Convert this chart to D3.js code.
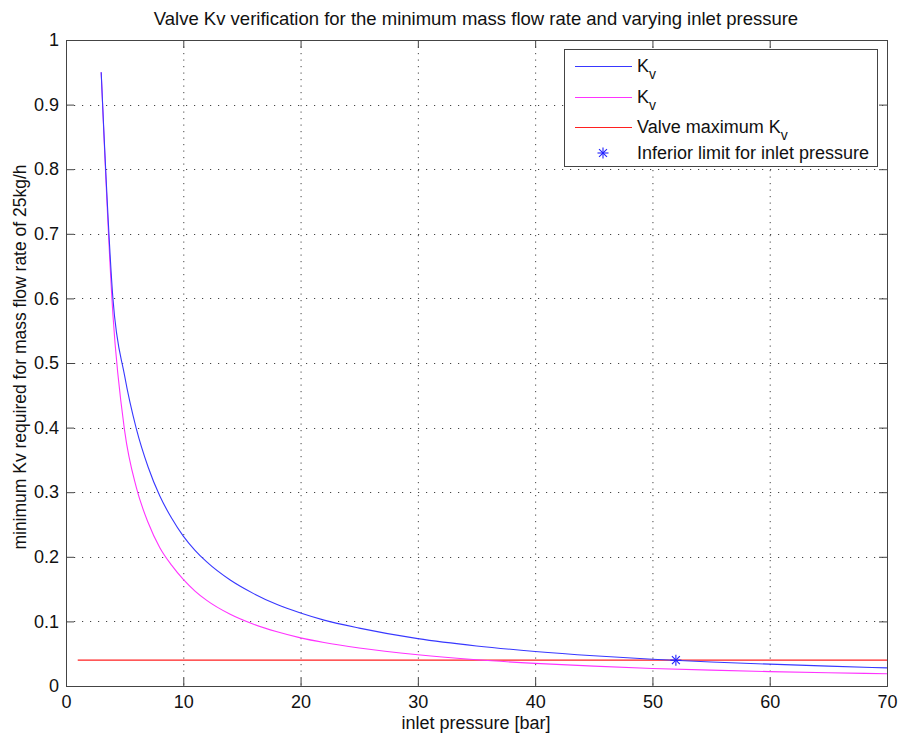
<!DOCTYPE html>
<html><head><meta charset="utf-8">
<script src="https://cdn.jsdelivr.net/npm/d3@7"></script>
<style>body{margin:0;background:#fff}svg{display:block}text{font-family:"Liberation Sans",Arial,sans-serif;fill:#111}</style>
</head><body>
<script>
const pressure = [3,4,5,6,7,8,9,10,11,12,14,16,18,20,22,25,30,35,40,45,50,55,60,65,70];
const kvBlue   = [0.95,0.600,0.480,0.398,0.339,0.294,0.260,0.232,0.210,0.192,0.164,0.143,0.126,0.113,0.102,0.0896,0.0733,0.0620,0.0535,0.0468,0.0414,0.0372,0.0338,0.0307,0.0280];
const kvMagenta= [0.95,0.575,0.395,0.307,0.253,0.214,0.187,0.165,0.147,0.1325,0.111,0.0956,0.0839,0.0745,0.0673,0.0588,0.0483,0.0406,0.0350,0.0307,0.0272,0.0245,0.0223,0.0205,0.0189];
const maxKvP = [1,70];
const maxKv = [0.04,0.04];
const limitP = [52];
const limitKv = [0.04];
const xTicks = [0,10,20,30,40,50,60,70];
const yTicks = [0,0.1,0.2,0.3,0.4,0.5,0.6,0.7,0.8,0.9,1];
const title = "Valve Kv verification for the minimum mass flow rate and varying inlet pressure";
const xLabel = "inlet pressure [bar]";
const yLabel = "minimum Kv required for mass flow rate of 25kg/h";

const W=899,H=738, L=66, R=887, T=40, B=686;
const svg=d3.select("body").append("svg").attr("width",W).attr("height",H);
const x=d3.scaleLinear().domain([0,70]).range([L,R]);
const y=d3.scaleLinear().domain([0,1]).range([B,T]);

// grid
const g=svg.append("g");
g.selectAll(".vg").data(xTicks.slice(1,-1)).join("line")
 .attr("x1",d=>x(d)+0.5).attr("x2",d=>x(d)+0.5).attr("y1",T).attr("y2",B)
 .attr("stroke","#444").attr("stroke-width",1).attr("stroke-dasharray","1.2,5.3");
g.selectAll(".hg").data(yTicks.slice(1,-1)).join("line")
 .attr("y1",d=>Math.round(y(d))+0.5).attr("y2",d=>Math.round(y(d))+0.5).attr("x1",L).attr("x2",R)
 .attr("stroke","#444").attr("stroke-width",1).attr("stroke-dasharray","1.2,6.8");

// axes with inside ticks
const fmt=d=>d===0?"0":(d===1?"1":d3.format(".1f")(d));
const axB=svg.append("g").attr("transform",`translate(0,${B})`).call(d3.axisBottom(x).tickValues(xTicks).tickSize(-8).tickPadding(9).tickFormat(d3.format("d")));
const axT=svg.append("g").attr("transform",`translate(0,${T})`).call(d3.axisTop(x).tickValues(xTicks).tickSize(-8).tickFormat(""));
const axL=svg.append("g").attr("transform",`translate(${L},0)`).call(d3.axisLeft(y).tickValues(yTicks).tickSize(-8).tickPadding(7).tickFormat(fmt));
const axR=svg.append("g").attr("transform",`translate(${R},0)`).call(d3.axisRight(y).tickValues(yTicks).tickSize(-8).tickFormat(""));
[axB,axT,axL,axR].forEach(a=>{a.selectAll("path").attr("stroke","#444");a.selectAll("line").attr("stroke","#444");
  a.selectAll("text").attr("font-size",18).attr("fill","#111").attr("font-family","Liberation Sans, Arial, sans-serif");});

// data lines
const line=d3.line().x(d=>x(d[0])).y(d=>y(d[1]));
svg.append("path").datum(maxKvP.map((p,i)=>[p,maxKv[i]])).attr("d",line).attr("fill","none").attr("stroke","#ff2020").attr("stroke-width",1.1);
svg.append("path").datum(pressure.map((p,i)=>[p,kvMagenta[i]])).attr("d",line.curve(d3.curveMonotoneX)).attr("fill","none").attr("stroke","#ff33ff").attr("stroke-width",1.1);
svg.append("path").datum(pressure.map((p,i)=>[p,kvBlue[i]])).attr("d",line.curve(d3.curveMonotoneX)).attr("fill","none").attr("stroke","#3838ff").attr("stroke-width",1.1);

// star marker
const star=(sel,cx,cy,r)=>{
  const a=sel.append("g").attr("transform",`translate(${cx},${cy})`).attr("stroke","#2020ff").attr("stroke-width",1.1);
  a.append("line").attr("x1",-r).attr("x2",r).attr("y1",0).attr("y2",0);
  a.append("line").attr("x1",0).attr("x2",0).attr("y1",-r).attr("y2",r);
  const k=r*0.72;
  a.append("line").attr("x1",-k).attr("x2",k).attr("y1",-k).attr("y2",k);
  a.append("line").attr("x1",-k).attr("x2",k).attr("y1",k).attr("y2",-k);
};
limitP.forEach((p,i)=>star(svg,x(p),y(limitKv[i]),5.5));

// title and labels
svg.append("text").attr("x",476).attr("y",25).attr("text-anchor","middle").attr("font-size",18.5).text(title);
svg.append("text").attr("x",476).attr("y",729).attr("text-anchor","middle").attr("font-size",18).text(xLabel);
svg.append("text").attr("transform","translate(26,357) rotate(-90)").attr("text-anchor","middle").attr("font-size",17.5).text(yLabel);

// legend
const lg=svg.append("g");
lg.append("rect").attr("x",564.5).attr("y",49.5).attr("width",313).attr("height",117).attr("fill","#fff").attr("stroke","#444");
const items=[{c:"#3838ff",t:"K",sub:"v"},{c:"#ff33ff",t:"K",sub:"v"},{c:"#ff2020",t:"Valve maximum K",sub:"v"},{c:"star",t:"Inferior limit for inlet pressure"}];
const rowY=[66,97,127,153];
items.forEach((it,i)=>{
  const yy=rowY[i];
  if(it.c==="star") star(lg,603,yy,5.5);
  else lg.append("line").attr("x1",575).attr("x2",632).attr("y1",yy+0.5).attr("y2",yy+0.5).attr("stroke",it.c).attr("stroke-width",1.1);
  const t=lg.append("text").attr("x",637).attr("y",yy+6).attr("font-size",18);
  t.append("tspan").text(it.t);
  if(it.sub) t.append("tspan").attr("dy",7).attr("font-size",14).text(it.sub);
});
</script>
</body></html>
